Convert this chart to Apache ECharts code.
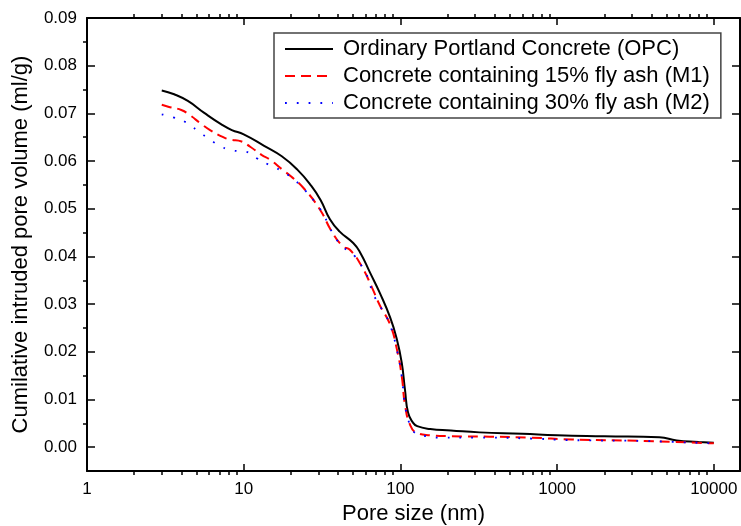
<!DOCTYPE html>
<html>
<head>
<meta charset="utf-8">
<title>Cumulative intruded pore volume</title>
<script src="https://cdn.jsdelivr.net/npm/echarts@6/dist/echarts.min.js"></script>
<style>
  html, body { margin: 0; padding: 0; background: #fff; }
  #main { width: 741px; height: 526px; }
</style>
</head>
<body>
<div id="main"></div>
<script>
// data
var seriesNames = [
  'Ordinary Portland Concrete (OPC)',
  'Concrete containing 15% fly ash (M1)',
  'Concrete containing 30% fly ash (M2)'
];

var opcSize = [3, 3.6, 4.4, 5.6, 7.2, 8.4, 10, 13.5, 17.5, 22, 27, 31, 35.5, 41, 50, 55, 64, 74, 86, 95, 102, 107, 112, 120, 128, 155, 210, 320, 600, 1000, 2000, 4500, 5800, 8000, 10000];
var opcVolume = [0.0748, 0.074, 0.0726, 0.0701, 0.0677, 0.0665, 0.0656, 0.0632, 0.061, 0.0582, 0.0548, 0.0518, 0.0478, 0.0452, 0.0428, 0.041, 0.0366, 0.0323, 0.0272, 0.0226, 0.0177, 0.012, 0.0072, 0.0052, 0.0044, 0.0038, 0.0035, 0.0031, 0.0028, 0.0025, 0.0023, 0.0021, 0.0014, 0.0011, 0.0009];

var m1Size = [3, 3.3, 4, 4.5, 5.4, 6.1, 7.4, 8.2, 9.7, 11, 13, 14.7, 17.5, 20, 24, 30.7, 36.5, 43, 47.6, 56.7, 66, 74, 86, 95, 102, 107, 115, 127, 155, 210, 370, 670, 1250, 3600, 5500, 10000];
var m1Volume = [0.0718, 0.0714, 0.0707, 0.0697, 0.0677, 0.0665, 0.065, 0.0645, 0.0641, 0.063, 0.0613, 0.0603, 0.0583, 0.0568, 0.0544, 0.0498, 0.0452, 0.0421, 0.0414, 0.0379, 0.0334, 0.0297, 0.0257, 0.0205, 0.0149, 0.0089, 0.0048, 0.003, 0.0025, 0.0023, 0.0022, 0.002, 0.0016, 0.0013, 0.0011, 0.0008];

var m2Size = [3, 3.6, 4.3, 5.1, 6.1, 7.2, 8.6, 10.2, 12.1, 14.5, 17.3, 20.4, 24.4, 28.5, 32, 35, 38.3, 43, 51, 57.5, 62.5, 66, 71.5, 80, 86, 95, 102, 107, 115, 124, 147, 175, 300, 700, 1150, 3500, 5500, 10000];
var m2Volume = [0.0698, 0.0691, 0.0681, 0.0663, 0.0645, 0.063, 0.0622, 0.062, 0.0606, 0.0592, 0.058, 0.0564, 0.054, 0.0514, 0.049, 0.0464, 0.044, 0.042, 0.0401, 0.0376, 0.0353, 0.0327, 0.0304, 0.0278, 0.0256, 0.0204, 0.0148, 0.0088, 0.0047, 0.003, 0.0023, 0.002, 0.002, 0.0018, 0.0015, 0.0013, 0.0011, 0.0008];

var FONT = 'Arial, "Liberation Sans", sans-serif';
var X_MIN = 1, X_MAX = 14700;     // log axis, decades labelled 1 ... 10000
var Y_MIN = -0.005, Y_MAX = 0.09; // labels every 0.01, minor ticks at half steps

function pairs(xs, ys) {
  return xs.map(function (x, i) { return [x, ys[i]]; });
}

// only show exact powers of ten on the log axis
function xLabel(v) {
  var p = Math.log(v) / Math.LN10;
  if (Math.abs(p - Math.round(p)) > 1e-6) return '';
  return String(Math.round(v));
}

function yLabel(v) {
  if (v < -1e-9) return '';
  return v.toFixed(2);
}

function xAxisOf(pos, withLabel) {
  return {
    type: 'log', logBase: 10, min: X_MIN, max: X_MAX, position: pos,
    axisLine: { show: true, onZero: false, lineStyle: { color: '#000', width: 2 } },
    axisTick: { show: true, inside: true, length: 7, lineStyle: { color: '#000', width: 1.5 } },
    // negative length turns the minor ticks inwards like the major ones
    minorTick: { show: true, splitNumber: 9, length: -4, lineStyle: { color: '#000', width: 1.5 } },
    axisLabel: {
      show: true, margin: 10, color: '#000', fontFamily: FONT, fontSize: 17,
      formatter: withLabel ? xLabel : function () { return ''; }
    },
    splitLine: { show: false },
    minorSplitLine: { show: false }
  };
}

function yAxisOf(pos, withLabel) {
  return {
    type: 'value', min: Y_MIN, max: Y_MAX, splitNumber: 10, position: pos,
    axisLine: { show: true, onZero: false, lineStyle: { color: '#000', width: 2 } },
    axisTick: { show: true, inside: true, length: 8, lineStyle: { color: '#000', width: 1.5 } },
    minorTick: { show: true, splitNumber: 2, length: -4, lineStyle: { color: '#000', width: 1.5 } },
    axisLabel: {
      show: true, margin: 10, color: '#000', fontFamily: FONT, fontSize: 17,
      formatter: withLabel ? yLabel : function () { return ''; }
    },
    splitLine: { show: false },
    minorSplitLine: { show: false }
  };
}

var xBottom = xAxisOf('bottom', true);
xBottom.name = 'Pore size (nm)';
xBottom.nameLocation = 'middle';
xBottom.nameGap = 32;
xBottom.nameTextStyle = { color: '#000', fontFamily: FONT, fontSize: 22 };

var yLeft = yAxisOf('left', true);
yLeft.name = 'Cumilative intruded pore volume (ml/g)';
yLeft.nameLocation = 'middle';
yLeft.nameGap = 55;
yLeft.nameTextStyle = { color: '#000', fontFamily: FONT, fontSize: 22 };

var myChart = echarts.init(document.getElementById('main'), null, { renderer: 'canvas' });

var option = {
  animation: false,
  backgroundColor: '#fff',
  grid: { left: 87, right: 1, top: 18, bottom: 55, containLabel: false, outerBoundsMode: 'none' },
  legend: {
    orient: 'vertical',
    left: 274, top: 33,
    padding: [5, 11, 4, 10],
    itemGap: 5,
    itemWidth: 48, itemHeight: 14,
    borderColor: '#444', borderWidth: 1.5,
    textStyle: { color: '#000', fontFamily: FONT, fontSize: 22, padding: [0, 0, 0, 5] },
    data: seriesNames
  },
  xAxis: [xBottom, xAxisOf('top', false)],
  yAxis: [yLeft, yAxisOf('right', false)],
  series: [
    {
      name: seriesNames[0], type: 'line', symbol: 'none', smooth: 0.5,
      lineStyle: { color: '#000', width: 2 },
      itemStyle: { color: '#000', opacity: 0 },
      data: pairs(opcSize, opcVolume), z: 3
    },
    {
      name: seriesNames[1], type: 'line', symbol: 'none', smooth: 0.5,
      lineStyle: { color: '#ff0000', width: 2, type: [10, 6] },
      itemStyle: { color: '#ff0000', opacity: 0 },
      data: pairs(m1Size, m1Volume), z: 4
    },
    {
      name: seriesNames[2], type: 'line', symbol: 'none', smooth: 0.5,
      lineStyle: { color: '#0000ff', width: 1.8, type: [1.8, 10] },
      itemStyle: { color: '#0000ff', opacity: 0 },
      data: pairs(m2Size, m2Volume), z: 5
    }
  ]
};

myChart.setOption(option);
</script>
</body>
</html>
